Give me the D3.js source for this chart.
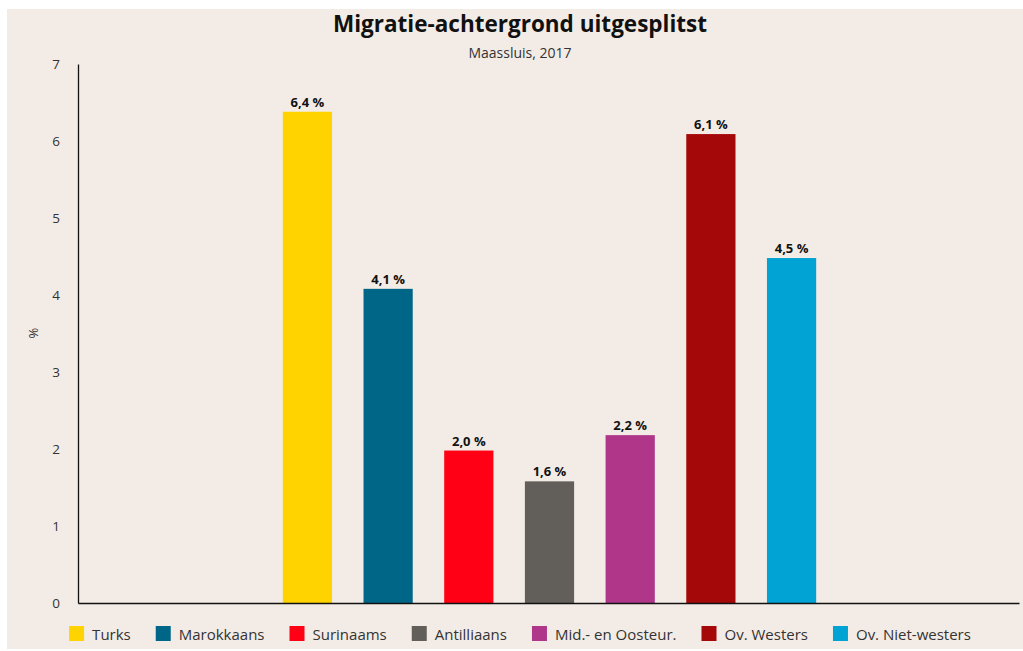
<!DOCTYPE html>
<html>
<head>
<meta charset="utf-8">
<script src="https://cdn.jsdelivr.net/npm/d3@7"></script>
<style>
	body { margin: 0; background: #fff; }
	svg { display: block; font-family: "Open Sans", sans-serif; }
</style>
</head>
<body>
<div id="chart"></div>
<script>
// data
var groups = ["Maassluis"];
var series = ["Turks", "Marokkaans", "Surinaams", "Antilliaans", "Mid.- en Oosteur.", "Ov. Westers", "Ov. Niet-westers"];
var values = [6.38, 4.08, 1.98, 1.58, 2.18, 6.09, 4.48];
var colors = ["#ffd300", "#006688", "#ff0014", "#625f5a", "#b0368a", "#a50808", "#00a3d4"];
var yTicks = [0, 1, 2, 3, 4, 5, 6, 7];

var width = 1023, height = 651;
var margin = {top: 64, right: 4, bottom: 48, left: 78};

var svg = d3.select("#chart").append("svg")
	.attr("width", width)
	.attr("height", height);

// beige card
svg.append("rect")
	.attr("x", 7).attr("y", 9)
	.attr("width", width - 7).attr("height", height - 11)
	.attr("fill", "#f3ece6");

// group band sits 1px right of the axis origin, as in the reference
var x0 = d3.scaleBand()
	.domain(groups)
	.range([margin.left + 1, width - margin.right + 1])
	.paddingInner(0)
	.paddingOuter(0.333);

var x1 = d3.scaleBand()
	.domain(series)
	.range([0, x0.bandwidth()])
	.paddingInner(0.39)
	.paddingOuter(0.195);

var y = d3.scaleLinear()
	.domain([0, 7])
	.range([603, margin.top]);

// title
svg.append("text")
	.attr("x", 520).attr("y", 32)
	.attr("text-anchor", "middle")
	.attr("font-size", "22.5px")
	.attr("font-weight", "bold")
	.attr("fill", "#111")
	.text("Migratie-achtergrond uitgesplitst");

svg.append("text")
	.attr("x", 520).attr("y", 58)
	.attr("text-anchor", "middle")
	.attr("font-size", "14px")
	.attr("fill", "#333")
	.text("Maassluis, 2017");

// bars
var rows = series.map(function(s, i) { return {name: s, value: values[i], color: colors[i], group: groups[0]}; });

var g = svg.append("g");
g.selectAll("rect")
	.data(rows)
	.enter().append("rect")
	.attr("x", function(d) { return x0(d.group) + x1(d.name); })
	.attr("y", function(d) { return y(d.value); })
	.attr("width", x1.bandwidth())
	.attr("height", function(d) { return y(0) - y(d.value); })
	.attr("fill", function(d) { return d.color; });

var fmt = d3.formatLocale({decimal: ",", thousands: ".", grouping: [3], currency: ["€", ""]}).format(".1f");
g.selectAll("text")
	.data(rows)
	.enter().append("text")
	.attr("x", function(d) { return x0(d.group) + x1(d.name) + x1.bandwidth() / 2; })
	.attr("y", function(d) { return y(d.value) - 5; })
	.attr("text-anchor", "middle")
	.attr("font-size", "13px")
	.attr("font-weight", "bold")
	.attr("fill", "#111")
	.text(function(d) { return fmt(d.value) + " %"; });

// axes
var yAxis = svg.append("g")
	.attr("transform", "translate(" + margin.left + ",0)")
	.call(d3.axisLeft(y).tickValues(yTicks).tickSize(0).tickPadding(18).tickFormat(d3.format("d")));
yAxis.select(".domain").attr("stroke", "#111").attr("stroke-width", 1.3);
yAxis.selectAll("text").attr("font-size", "13.5px").attr("fill", "#333").attr("font-family", "Open Sans");

var xAxis = svg.append("g")
	.attr("transform", "translate(-1," + y(0) + ")")
	.call(d3.axisBottom(x0).tickSize(0).tickFormat(""));
xAxis.select(".domain").attr("stroke", "#111").attr("stroke-width", 1.3);

svg.append("text")
	.attr("transform", "translate(38,333) rotate(-90)")
	.attr("text-anchor", "middle")
	.attr("font-size", "13px")
	.attr("fill", "#333")
	.text("%");

// legend, flowed and centered
var legend = svg.append("g");
var items = legend.selectAll("g")
	.data(rows)
	.enter().append("g");
items.append("rect")
	.attr("width", 15).attr("height", 15)
	.attr("y", -8)
	.attr("fill", function(d) { return d.color; });
items.append("text")
	.attr("x", 23)
	.attr("y", 5.5)
	.attr("font-size", "15px")
	.attr("fill", "#333")
	.text(function(d) { return d.name; });

var gap = 25;
var cursor = 0;
items.each(function() {
	var w = this.getBBox().width;
	d3.select(this).attr("transform", "translate(" + cursor + ",0)");
	cursor += w + gap;
});
var total = cursor - gap;
legend.attr("transform", "translate(" + (520 - total / 2) + ",634)");
</script>
</body>
</html>
